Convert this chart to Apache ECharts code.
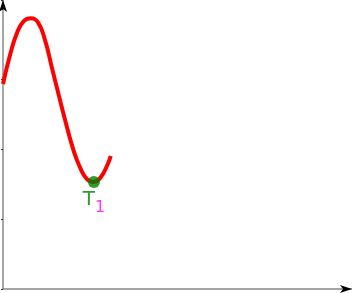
<!DOCTYPE html>
<html><head><meta charset="utf-8">
<script src="https://cdn.jsdelivr.net/npm/echarts@6/dist/echarts.min.js"></script>
<style>html,body{margin:0;padding:0;background:#fff}#c{width:352px;height:293px}</style>
</head><body><div id="c"></div>
<script>
const curveX = [0, 0.1, 0.2, 0.3, 0.4, 0.5, 0.6, 0.7, 0.8, 0.9, 1.0, 1.1, 1.2, 1.3, 1.4, 1.5, 1.54];
const curveY = [2.93, 3.34, 3.66, 3.83, 3.87, 3.81, 3.56, 3.16, 2.76, 2.37, 2.01, 1.74, 1.57, 1.53, 1.60, 1.79, 1.90];
const pointX = [1.30];
const pointY = [1.53];
const pointName = ['T'];
const pointSub = ['1'];

const chart = echarts.init(document.getElementById('c'));
chart.setOption({
  animation: false,
  grid: {left: 3, right: 0, top: 0, bottom: 4},
  xAxis: {type: 'value', min: 0, max: 4.99,
    axisLine: {show: true, onZero: false, lineStyle: {color: '#888', width: 1.5}},
    axisTick: {show: false}, axisLabel: {show: false}, splitLine: {show: false}},
  yAxis: {type: 'value', min: 0, max: 4.13, interval: 1,
    axisLine: {show: true, onZero: false, lineStyle: {color: '#888', width: 1.5}},
    axisTick: {show: true, length: 2, lineStyle: {color: '#333'}}, axisLabel: {show: false}, splitLine: {show: false}},
  series: [
    {type: 'line', smooth: true, showSymbol: false, z: 2, data: curveX.map((x, i) => [x, curveY[i]]),
     lineStyle: {color: '#ff0000', width: 4}},
    {type: 'scatter', symbolSize: 12, z: 5, itemStyle: {color: '#008000'},
     data: pointX.map((x, i) => [x, pointY[i]]),
     label: {show: true, position: 'bottom', distance: 2,
       formatter: p => '{t|' + pointName[p.dataIndex] + '}{s|' + pointSub[p.dataIndex] + '}',
       rich: {
         t: {fontFamily: 'DejaVu Sans', fontSize: 20, color: '#008000', lineHeight: 22, verticalAlign: 'top'},
         s: {fontFamily: 'DejaVu Sans', fontSize: 16, color: '#ff00ff', padding: [10, 0, 0, 0], verticalAlign: 'top'}
       }}}
  ]
});
// black arrowheads at the axis ends, placed from the axes' own scales
const o = chart.convertToPixel({gridIndex: 0}, [0, 0]);
const xe = chart.convertToPixel({gridIndex: 0}, [4.99, 0]);
const ye = chart.convertToPixel({gridIndex: 0}, [0, 4.13]);
chart.setOption({graphic: [
  {type: 'polygon', shape: {points: [[xe[0], xe[1]], [xe[0] - 12, xe[1] - 4], [xe[0] - 9, xe[1]], [xe[0] - 12, xe[1] + 4]]}, style: {fill: '#000'}, z: 10},
  {type: 'polygon', shape: {points: [[o[0], ye[1]], [o[0] - 4, ye[1] + 12], [o[0], ye[1] + 9], [o[0] + 4, ye[1] + 12]]}, style: {fill: '#000'}, z: 10}
]});
</script></body></html>
